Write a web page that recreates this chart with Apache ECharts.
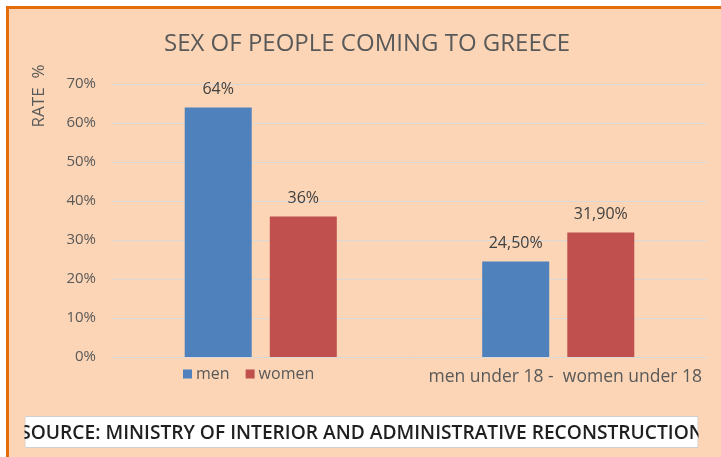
<!DOCTYPE html>
<html>
<head>
<meta charset="utf-8">
<script src="https://cdn.jsdelivr.net/npm/echarts@6/dist/echarts.min.js"></script>
<style>
  html, body { margin: 0; padding: 0; background: #ffffff; }
  #chart { width: 721px; height: 457px; }
</style>
</head>
<body>
<div id="chart"></div>
<script>
// Categories and values (percent)
const categories = ['', 'men under 18 -  women under 18'];
const menValues = [64, 24.5];
const womenValues = [36, 31.9];
const yTicks = [0, 10, 20, 30, 40, 50, 60, 70];

const seriesNames = ['men', 'women'];
const titleText = 'SEX OF PEOPLE COMING TO GREECE';
const axisTitle = 'RATE  %';
const sourceText = 'SOURCE: MINISTRY OF INTERIOR AND ADMINISTRATIVE RECONSTRUCTION';

const peach = '#fbd5b5';
const font = 'Open Sans, Liberation Sans, sans-serif';

function formatValue(p) {
  if (p.dataIndex === 0) return p.value + '%';
  return p.value.toFixed(2).replace('.', ',') + '%';
}

const chart = echarts.init(document.getElementById('chart'), null, { renderer: 'canvas' });

chart.setOption({
  backgroundColor: '#ffffff',
  animation: false,
  title: {
    text: titleText,
    left: 159,
    top: 27,
    textStyle: { fontFamily: font, fontSize: 24, fontWeight: 'normal', color: '#595959' }
  },
  legend: {
    left: 178,
    top: 361,
    itemWidth: 9,
    itemHeight: 9,
    itemGap: 16,
    icon: 'rect',
    textStyle: { fontFamily: font, fontSize: 16, color: '#595959', padding: [0, 0, 0, -1] },
    data: seriesNames
  },
  grid: { left: 112, right: 14, top: 84, bottom: 100, containLabel: false },
  xAxis: {
    type: 'category',
    data: categories,
    axisTick: { show: false },
    axisLine: { lineStyle: { color: '#d9d9d9' } },
    axisLabel: { interval: 0, fontFamily: font, fontSize: 17.5, color: '#595959', margin: 11, padding: [0, 0, 0, 14] }
  },
  yAxis: {
    type: 'value',
    min: yTicks[0],
    max: yTicks[yTicks.length - 1],
    interval: 10,
    axisLine: { show: false },
    axisTick: { show: false },
    splitLine: { lineStyle: { color: '#d9d9d9' } },
    axisLabel: { fontFamily: font, fontSize: 15, color: '#595959', margin: 16, formatter: '{value}%' }
  },
  series: [
    {
      name: seriesNames[0],
      type: 'bar',
      data: menValues,
      barWidth: 67,
      barGap: '27%',
      itemStyle: { color: '#4f81bd' },
      label: { show: true, position: 'top', distance: 10, fontFamily: font, fontSize: 16, color: '#404040', formatter: formatValue }
    },
    {
      name: seriesNames[1],
      type: 'bar',
      data: womenValues,
      barWidth: 67,
      barGap: '27%',
      itemStyle: { color: '#c0504d' },
      label: { show: true, position: 'top', distance: 10, fontFamily: font, fontSize: 16, color: '#404040', formatter: formatValue }
    }
  ],
  graphic: [
    // panel background and orange frame
    { type: 'rect', z: -10, silent: true, shape: { x: 9, y: 9, width: 712, height: 448 }, style: { fill: peach } },
    { type: 'rect', z: -9, silent: true, shape: { x: 6, y: 6, width: 715, height: 3 }, style: { fill: '#e46c0a' } },
    { type: 'rect', z: -9, silent: true, shape: { x: 6, y: 6, width: 3, height: 451 }, style: { fill: '#e46c0a' } },
    // rotated axis title
    {
      type: 'text', silent: true, x: 31, y: 96, rotation: Math.PI / 2,
      style: { text: axisTitle, fontFamily: font, fontSize: 17, fill: '#595959', align: 'center', verticalAlign: 'top' }
    },
    // source box
    { type: 'rect', z: 10, silent: true, shape: { x: 25, y: 416.5, width: 673, height: 31 }, style: { fill: '#ffffff', stroke: '#d0d0d0', lineWidth: 1 } },
    {
      type: 'text', z: 11, silent: true, x: 362, y: 434,
      style: { text: sourceText, fontFamily: font, fontSize: 19.2, fontWeight: 600, fill: '#1f1f1f', align: 'center', verticalAlign: 'middle' }
    },
    // side covers to cut the source text at the box edges
    { type: 'rect', z: 12, silent: true, shape: { x: 9, y: 410, width: 15.5, height: 42 }, style: { fill: peach } },
    { type: 'rect', z: 12, silent: true, shape: { x: 698.5, y: 410, width: 23, height: 42 }, style: { fill: peach } }
  ]
});
</script>
</body>
</html>
